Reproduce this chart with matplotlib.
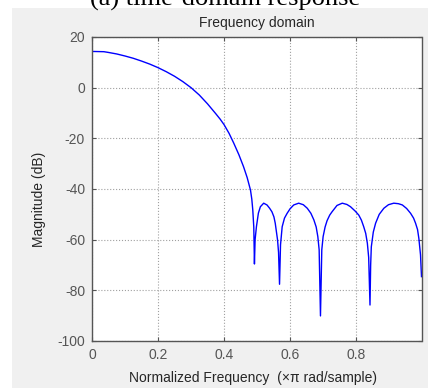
import matplotlib.pyplot as plt
from matplotlib.patches import Rectangle

plt.rcParams["axes.unicode_minus"] = False

# magnitude response
freq = [0.0, 0.036, 0.050, 0.075, 0.100, 0.125, 0.150, 0.175, 0.200, 0.225,
        0.250, 0.275, 0.300, 0.325, 0.350, 0.375, 0.388, 0.400, 0.415, 0.429,
        0.445, 0.459, 0.470, 0.480, 0.484, 0.487, 0.490, 0.492, 0.494, 0.498,
        0.504, 0.510, 0.520, 0.530, 0.538, 0.545, 0.551, 0.555, 0.562, 0.565,
        0.568, 0.571, 0.576, 0.583, 0.591, 0.600, 0.611, 0.626, 0.640, 0.652,
        0.663, 0.672, 0.679, 0.684, 0.688, 0.692, 0.696, 0.700, 0.706, 0.712,
        0.720, 0.727, 0.742, 0.758, 0.772, 0.783, 0.797, 0.808, 0.816, 0.823,
        0.829, 0.834, 0.838, 0.842, 0.844, 0.846, 0.852, 0.859, 0.870, 0.884,
        0.898, 0.914, 0.928, 0.940, 0.953, 0.965, 0.974, 0.980, 0.986, 0.990,
        0.995, 0.998]
mag_db = [14.3, 14.2, 13.9, 13.3, 12.5, 11.6, 10.5, 9.3, 7.9, 6.3,
          4.5, 2.4, 0.0, -2.9, -6.4, -10.3, -12.4, -14.6, -18.0, -21.8,
          -26.5, -31.2, -35.5, -40.4, -44.0, -48.3, -55.0, -69.6, -60.0, -54.9,
          -49.5, -47.0, -45.6, -46.3, -47.6, -49.0, -51.0, -53.5, -60.1, -65.0,
          -77.6, -62.0, -54.9, -51.5, -49.6, -47.8, -46.3, -45.6, -46.2, -47.6,
          -49.6, -52.2, -55.0, -58.8, -64.0, -90.1, -64.0, -58.8, -55.0, -52.5,
          -50.3, -49.0, -46.5, -45.6, -46.1, -47.0, -48.7, -50.3, -52.3, -54.9,
          -57.5, -61.4, -67.0, -85.8, -70.0, -62.8, -57.0, -53.5, -50.0, -47.6,
          -46.2, -45.6, -45.8, -46.3, -47.7, -49.6, -51.5, -53.5, -56.0, -59.5,
          -66.0, -74.6]

xticks = [0, 0.2, 0.4, 0.6, 0.8]
yticks = [-100, -80, -60, -40, -20, 0, 20]

W, H = 430, 389
fig = plt.figure(figsize=(W / 100, H / 100), dpi=100)
fig.patch.set_facecolor("white")

# MATLAB-style grey figure panel, kept behind the axes
fig.patches.append(Rectangle((12 / W, 1 - 388 / H), 416 / W, 380 / H,
                             transform=fig.transFigure, facecolor="#f0f0f0",
                             edgecolor="none", zorder=-5))

# caption is cut off at the top edge in the reference
fig.text(225 / W, 1 - 6 / H, "(a) time-domain response", ha="center", va="baseline",
         fontsize=19, family=["Liberation Serif", "DejaVu Serif"], color="black")

ax = fig.add_axes([92 / W, 1 - 341 / H, 329.5 / W, 304 / H])
ax.set_facecolor("white")
ax.plot(freq, mag_db, color="#0000ff", lw=1.0)

ax.set_xlim(0, 0.998)
ax.set_ylim(-100, 20)
ax.set_xticks(xticks)
ax.set_xticklabels(["0", "0.2", "0.4", "0.6", "0.8"])
ax.set_yticks(yticks)

ax.grid(True, linestyle=":", color="#a0a0a0", lw=0.8)
ax.tick_params(direction="in", top=True, right=True, length=3, width=0.8,
               colors="#555555", labelsize=10, labelcolor="#555555", pad=5)
for s in ax.spines.values():
    s.set_color("#555555")
    s.set_linewidth(1.0)

fam = ["Liberation Sans", "DejaVu Sans"]
for lab in ax.get_xticklabels() + ax.get_yticklabels():
    lab.set_family(fam)

ax.set_title("Frequency domain", fontsize=10, family=fam, color="#262626", pad=7)
ax.set_xlabel("Normalized Frequency  (\u00d7\u03c0 rad/sample)", fontsize=10,
              family=fam, color="#262626")
ax.set_ylabel("Magnitude (dB)", fontsize=10, family=fam, color="#262626")
ax.yaxis.set_label_coords(-0.14, 0.467)
ax.xaxis.set_label_coords(0.49, -0.099)

fig.savefig("out.png", dpi=100)
